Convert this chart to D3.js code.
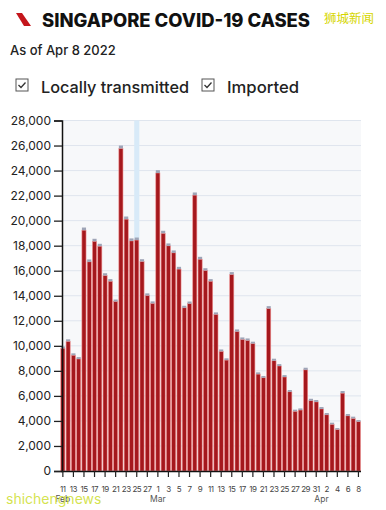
<!DOCTYPE html>
<html>
<head>
<meta charset="UTF-8">
<title>Singapore COVID-19 cases</title>
<script src="https://d3js.org/d3.v7.min.js"></script>
<style>
  body { margin: 0; background: #fff; }
  svg { display: block; font-family: Inter, "Open Sans", sans-serif; }
</style>
</head>
<body>
<svg width="386" height="510"></svg>
<script>
// daily cases, Feb 11 - Apr 8 2022 (totals)
var dates = d3.timeDays(new Date(2022, 1, 11), new Date(2022, 3, 9));
var totals = [
  9950, 10520, 9400, 9100, 19450, 16900, 18550, 18150, 15800, 15330, 13700, 26000, 20330, 18580,
  18650, 16920, 14190, 13550,
  24030, 19190, 18180, 17620, 16310, 13200, 13540, 22250, 17110, 16200, 15330, 12670, 9710, 9000,
  15890, 11310, 10670, 10590, 10330, 7880, 7590, 13170, 8970, 8540, 7660, 6470, 4900, 5000,
  8250, 5770, 5670,
  5110, 4630, 3860, 3430, 6390, 4550, 4340, 4070
];
var imported = [
  140, 160, 150, 150, 210, 190, 200, 190, 180, 170, 160, 230, 210, 200,
  200, 180, 170, 160,
  220, 200, 190, 190, 180, 160, 170, 210, 190, 180, 170, 160, 150, 140,
  190, 170, 160, 160, 150, 140, 140, 190, 160, 150, 150, 140, 130, 130,
  170, 150, 150,
  150, 140, 130, 120, 170, 140, 140, 130
];
var local = totals.map(function(t, i) { return t - imported[i]; });
var yTicks = d3.range(0, 28001, 2000);
var highlightDate = new Date(2022, 1, 25);

var svg = d3.select('svg');
var plot = { left: 62, right: 361, top: 120.5, bottom: 471 };

// header
svg.append('path')
  .attr('d', 'M16,13 L22,13 L31,26 L24,26 Z')
  .attr('fill', '#c4161c');
svg.append('text')
  .attr('x', 42).attr('y', 26.5)
  .attr('font-size', 18.5).attr('font-weight', 800)
  .attr('fill', '#111')
  .attr('textLength', 268).attr('lengthAdjust', 'spacingAndGlyphs')
  .text('SINGAPORE COVID-19 CASES');
svg.append('text')
  .attr('x', 324).attr('y', 23)
  .attr('font-family', '"Noto Sans CJK SC"')
  .attr('font-size', 12.5)
  .attr('fill', '#d6d600')
  .text('狮城新闻');
svg.append('text')
  .attr('x', 10).attr('y', 55)
  .attr('font-size', 13).attr('font-weight', 500)
  .attr('fill', '#222')
  .text('As of Apr 8 2022');

// legend
var legendItems = [
  { label: 'Locally transmitted', x: 16, w: 148 },
  { label: 'Imported', x: 202, w: 72 }
];
var lg = svg.selectAll('g.legend').data(legendItems).enter()
  .append('g').attr('class', 'legend')
  .attr('transform', function(d) { return 'translate(' + d.x + ',79)'; });
lg.append('rect')
  .attr('width', 12).attr('height', 12)
  .attr('fill', '#fff').attr('stroke', '#555').attr('stroke-width', 1);
lg.append('path')
  .attr('d', 'M2.5,6 L5,8.5 L9.5,3.5')
  .attr('fill', 'none').attr('stroke', '#333').attr('stroke-width', 1.3);
lg.append('text')
  .attr('x', 25).attr('y', 14)
  .attr('font-size', 16.5).attr('font-weight', 500)
  .attr('fill', '#222')
  .attr('textLength', function(d) { return d.w; }).attr('lengthAdjust', 'spacingAndGlyphs')
  .text(function(d) { return d.label; });

// scales
var x = d3.scaleBand().domain(dates).range([60.8, 360.5]).paddingInner(0.22);
var y = d3.scaleLinear().domain([0, 28000]).range([plot.bottom, plot.top]);

// plot background + grid
svg.append('rect')
  .attr('x', plot.left).attr('y', plot.top)
  .attr('width', plot.right - plot.left).attr('height', plot.bottom - plot.top)
  .attr('fill', '#f7f8fa');
svg.append('g').selectAll('line').data(yTicks.slice(1)).enter()
  .append('line')
  .attr('x1', plot.left).attr('x2', plot.right)
  .attr('y1', function(d) { return y(d); }).attr('y2', function(d) { return y(d); })
  .attr('stroke', '#dfe5ee').attr('stroke-width', 1);

// hover band
svg.append('rect')
  .attr('x', x(highlightDate) - 0.5).attr('y', plot.top)
  .attr('width', x.bandwidth() + 1).attr('height', plot.bottom - plot.top)
  .attr('fill', '#d8eaf8');

// stacked bars
var bars = svg.append('g');
bars.selectAll('rect.local').data(dates).enter()
  .append('rect').attr('class', 'local')
  .attr('x', function(d) { return x(d); })
  .attr('width', x.bandwidth())
  .attr('y', function(d, i) { return y(local[i]); })
  .attr('height', function(d, i) { return y(0) - y(local[i]); })
  .attr('fill', '#a5181d')
  .attr('stroke', '#ef9090').attr('stroke-width', 0.6);
bars.selectAll('rect.imp').data(dates).enter()
  .append('rect').attr('class', 'imp')
  .attr('x', function(d) { return x(d); })
  .attr('width', x.bandwidth())
  .attr('y', function(d, i) { return y(totals[i]); })
  .attr('height', function(d, i) { return y(local[i]) - y(totals[i]); })
  .attr('fill', '#9ea4b6');

// axes
var yAxis = svg.append('g')
  .attr('transform', 'translate(' + plot.left + ',0)')
  .call(d3.axisLeft(y).tickValues(yTicks).tickFormat(d3.format(',')).tickSize(8).tickPadding(3));
yAxis.select('.domain').attr('stroke', '#111').attr('stroke-width', 1.5);
yAxis.selectAll('.tick line').attr('stroke', '#222').attr('stroke-width', 1.3);
yAxis.selectAll('text').attr('font-size', 12).attr('fill', '#222')
  .attr('font-family', 'Inter, sans-serif');

var xTicks = dates.filter(function(d, i) { return i % 2 === 0; });
var xAxis = svg.append('g')
  .attr('transform', 'translate(0,' + plot.bottom + ')')
  .call(d3.axisBottom(x).tickValues(xTicks).tickFormat(d3.timeFormat('%-d')).tickSize(6).tickPadding(9).tickSizeOuter(0));
xAxis.select('.domain').attr('stroke', '#111').attr('stroke-width', 1.5);
xAxis.selectAll('.tick line').attr('stroke', '#222').attr('stroke-width', 1.2);
xAxis.selectAll('text').attr('font-size', 8).attr('fill', '#444')
  .attr('letter-spacing', -0.5)
  .attr('font-family', 'Inter, sans-serif');

// month labels
var months = [
  { label: 'Feb', date: new Date(2022, 1, 11) },
  { label: 'Mar', date: new Date(2022, 2, 1) },
  { label: 'Apr', date: new Date(2022, 3, 1) }
];
svg.append('g').selectAll('text').data(months).enter()
  .append('text')
  .attr('x', function(d) { return x(d.date) + x.bandwidth() / 2; })
  .attr('y', 502)
  .attr('text-anchor', 'middle')
  .attr('font-size', 8.5).attr('fill', '#555')
  .text(function(d) { return d.label; });

// watermark
svg.append('text')
  .attr('x', 6).attr('y', 504)
  .attr('font-size', 14)
  .attr('fill', '#cfe03a').attr('fill-opacity', 0.9)
  .text('shichengnews');
</script>
</body>
</html>
